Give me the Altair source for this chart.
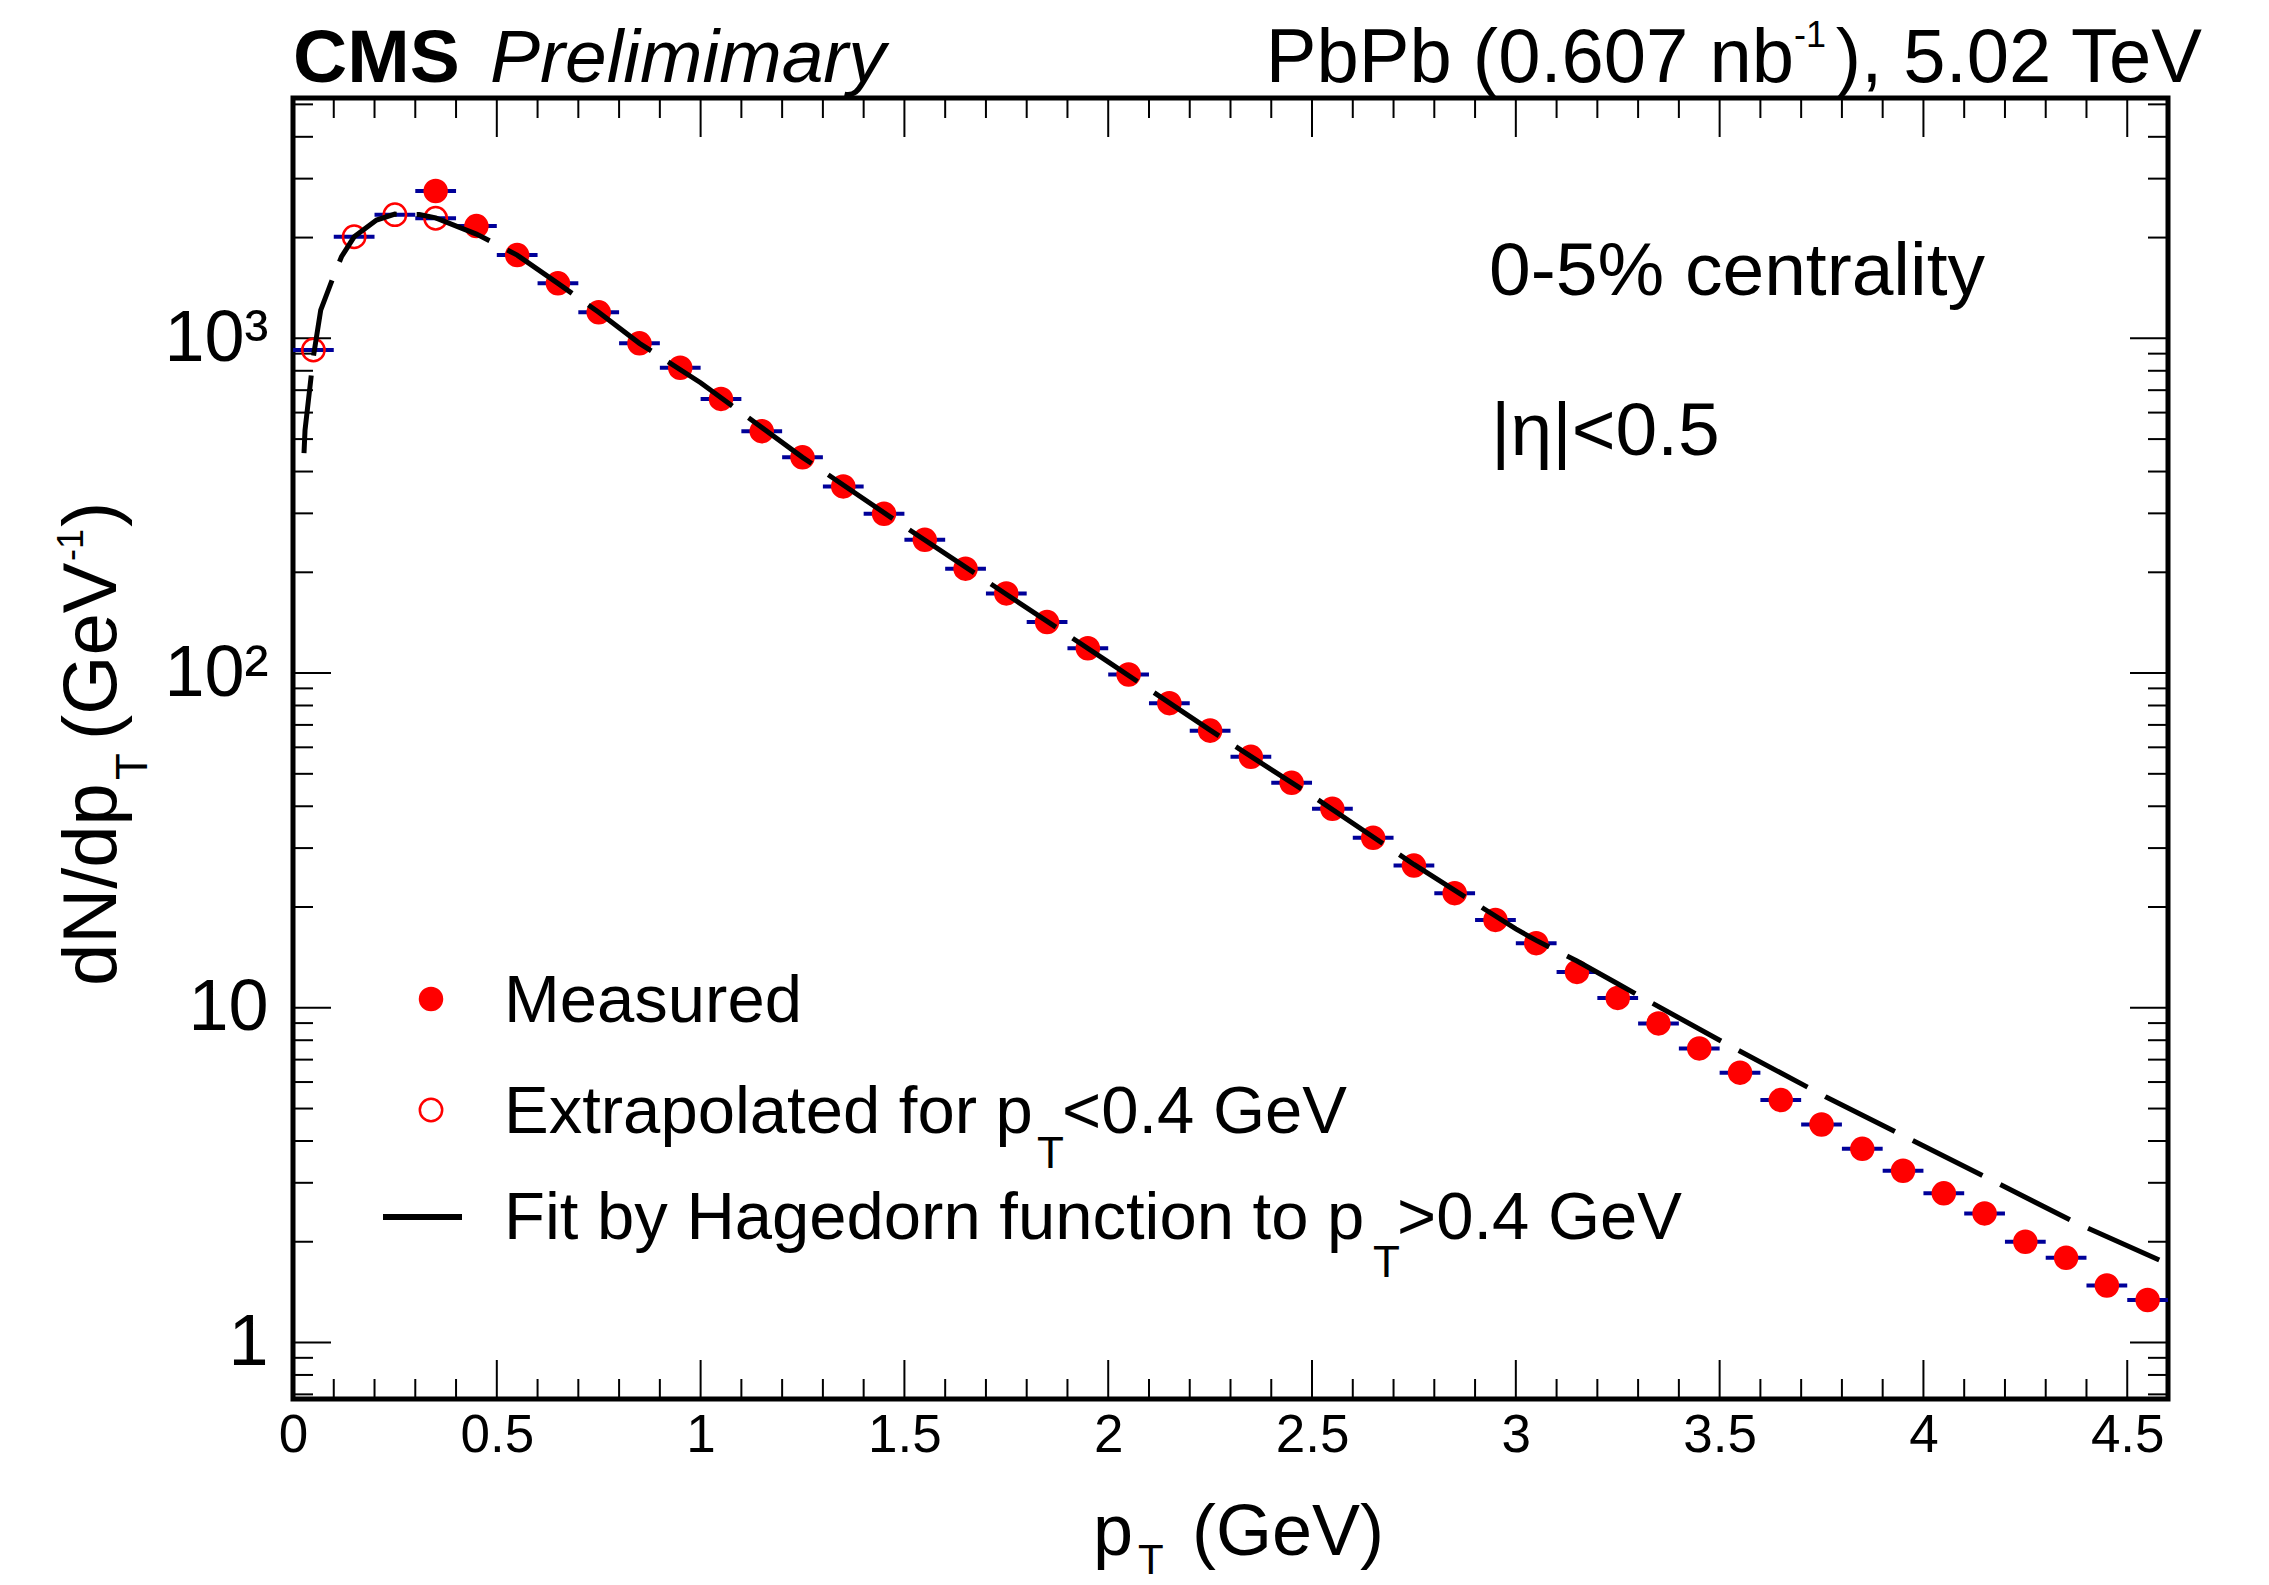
import altair as alt
import pandas as pd

# ---------------- data ----------------
meas_pt = [0.35, 0.45, 0.55, 0.65, 0.75, 0.85, 0.95, 1.05, 1.15, 1.25, 1.35, 1.45,
           1.55, 1.65, 1.75, 1.85, 1.95, 2.05, 2.15, 2.25, 2.35, 2.45, 2.55, 2.65,
           2.75, 2.85, 2.95, 3.05, 3.15, 3.25, 3.35, 3.45, 3.55, 3.65, 3.75, 3.85,
           3.95, 4.05, 4.15, 4.25, 4.35, 4.45, 4.55]
meas_val = [2755, 2165, 1773, 1460, 1196, 966, 817, 659, 528, 441, 361, 299,
            250, 205, 173, 142, 118.6, 99, 81.3, 67.3, 56.2, 47, 39.3, 32.2,
            26.6, 22, 18.3, 15.6, 12.8, 10.7, 8.98, 7.56, 6.40, 5.30, 4.48, 3.79,
            3.26, 2.79, 2.43, 2.00, 1.79, 1.48, 1.34]

extra_pt = [0.05, 0.15, 0.25, 0.35]
extra_val = [923, 2012, 2341, 2284]

fit_pt = [0.027, 0.0295, 0.05, 0.068, 0.099, 0.119, 0.15, 0.205, 0.25, 0.31, 0.35,
          0.45, 0.55, 0.65, 0.75, 0.85, 1.0, 1.25, 1.5, 1.75, 2.0, 2.25, 2.5, 2.75,
          3.0, 3.05, 3.15, 3.25, 3.33, 3.5, 3.76, 3.95, 4.15, 4.37, 4.58]
fit_val = [454, 532, 881, 1215, 1528, 1753, 2010, 2257, 2350, 2345, 2290,
           2049, 1773, 1460, 1196, 966, 737, 441, 274, 172, 108, 67.5, 43, 26.8,
           17.2, 15.9, 13.8, 11.8, 10.4, 8.0, 5.42, 4.15, 3.13, 2.29, 1.76]

bin_half = 0.05

x_major = [0, 0.5, 1, 1.5, 2, 2.5, 3, 3.5, 4, 4.5]
x_minor = [0.1, 0.2, 0.3, 0.4, 0.6, 0.7, 0.8, 0.9, 1.1, 1.2, 1.3, 1.4,
           1.6, 1.7, 1.8, 1.9, 2.1, 2.2, 2.3, 2.4, 2.6, 2.7, 2.8, 2.9,
           3.1, 3.2, 3.3, 3.4, 3.6, 3.7, 3.8, 3.9, 4.1, 4.2, 4.3, 4.4]
y_major = [1, 10, 100, 1000]
y_minor = [0.7, 0.8, 0.9, 2, 3, 4, 5, 6, 7, 8, 9, 20, 30, 40, 50, 60, 70, 80, 90,
           200, 300, 400, 500, 600, 700, 800, 900, 2000, 3000, 4000, 5000]

# ---------------- layout ----------------
W, H = 1875, 1301
FONT = "Liberation Sans"
RED = "#ff0000"
BLUE = "#000099"

xs = alt.Scale(domain=[0, 4.6], nice=False, zero=False)
ys = alt.Scale(type="log", domain=[0.678, 5224], nice=False)

meas_df = pd.DataFrame({"pt": meas_pt, "val": meas_val})
extra_df = pd.DataFrame({"pt": extra_pt, "val": extra_val})
bars_df = pd.concat([extra_df, meas_df], ignore_index=True)
bars_df["lo"] = bars_df["pt"] - bin_half
bars_df["hi"] = bars_df["pt"] + bin_half
fit_df = pd.DataFrame({"pt": fit_pt, "val": fit_val})

X_AXIS = dict(values=x_major, format="~g", title=None, grid=False, domain=False,
              ticks=False, tickSize=0, labelFont=FONT, labelFontSize=53,
              labelColor="black", labelPadding=10, labelFlush=False,
              labelOverlap=False)
Y_AXIS = dict(values=y_major, title=None, grid=False, domain=False, ticks=False,
              tickSize=0, labelFont=FONT, labelFontSize=72, labelColor="black",
              labelPadding=25, labelBaseline="middle", labelOverlap=False,
              labelFlush=False,
              labelExpr="datum.value == 1000 ? '10³' : datum.value == 100 ? '10²' : datum.value == 10 ? '10' : '1'")


def X(field):
    return alt.X(field, scale=xs, axis=alt.Axis(**X_AXIS))


def Y(field):
    return alt.Y(field, scale=ys, axis=alt.Axis(**Y_AXIS))


err = alt.Chart(bars_df).mark_rule(color=BLUE, strokeWidth=4).encode(
    x=X("lo:Q"), x2="hi:Q", y=Y("val:Q"))

meas_pts = alt.Chart(meas_df).mark_point(shape="circle", filled=True, color=RED,
                                          size=600, opacity=1).encode(
    x=X("pt:Q"), y=Y("val:Q"))

extra_pts = alt.Chart(extra_df).mark_point(shape="circle", filled=False, color=RED,
                                            strokeWidth=2.5, size=500, opacity=1).encode(
    x=X("pt:Q"), y=Y("val:Q"))

fit = alt.Chart(fit_df).mark_line(color="black", strokeWidth=5,
                                  strokeDash=[78, 20]).encode(
    x=X("pt:Q"), y=Y("val:Q"))


def xticks(vals, length):
    df = pd.DataFrame({"t": vals})
    base = alt.Chart(df).mark_rule(color="black", strokeWidth=2)
    top = base.encode(x=X("t:Q"), y=alt.value(0), y2=alt.value(length))
    bot = base.encode(x=X("t:Q"), y=alt.value(H), y2=alt.value(H - length))
    return [top, bot]


def yticks(vals, length):
    df = pd.DataFrame({"t": vals})
    base = alt.Chart(df).mark_rule(color="black", strokeWidth=2)
    left = base.encode(y=Y("t:Q"), x=alt.value(0), x2=alt.value(length))
    right = base.encode(y=Y("t:Q"), x=alt.value(W), x2=alt.value(W - length))
    return [left, right]


one = pd.DataFrame({"d": [0]})


def txt(s, x, y, size, align="left", angle=0, weight="normal", style="normal"):
    return alt.Chart(one).mark_text(text=s, font=FONT, fontSize=size, align=align,
                                    baseline="alphabetic", color="black", angle=angle,
                                    fontWeight=weight, fontStyle=style).encode(
        x=alt.value(x), y=alt.value(y))


texts = [
    txt("CMS", 0, -16, 75, weight="bold"),
    txt("Prelimimary", 197, -16, 75, style="italic"),
    txt("PbPb (0.607 nb", 1501, -16, 76, align="right"),
    txt("-1", 1533, -51, 36, align="right"),
    txt("), 5.02 TeV", 1909, -16, 76, align="right"),
    txt("0-5% centrality", 1196, 197, 75),
    txt("|η|<0.5", 1198, 357, 75),
    # legend
    txt("Measured", 211, 924, 67),
    txt("Extrapolated for p", 211, 1035, 67),
    txt("T", 744, 1070, 44),
    txt("<0.4 GeV", 769, 1035, 67),
    txt("Fit by Hagedorn function to p", 211, 1141, 67),
    txt("T", 1080, 1179, 44),
    txt(">0.4 GeV", 1104, 1141, 67),
    # x title
    txt("p", 800, 1457, 72),
    txt("T", 845, 1476, 42),
    txt("(GeV)", 899, 1457, 72),
    # y title (rotated)
    txt("dN/dp", -177, 888, 76, angle=270),
    txt("T", -146, 682, 44, angle=270),
    txt("(GeV", -177, 642, 76, angle=270),
    txt("-1", -210, 463, 36, angle=270),
    txt(")", -177, 429, 76, angle=270),
]

leg_filled = alt.Chart(one).mark_point(shape="circle", filled=True, color=RED,
                                        size=600, opacity=1).encode(
    x=alt.value(138), y=alt.value(901))
leg_open = alt.Chart(one).mark_point(shape="circle", filled=False, color=RED,
                                      strokeWidth=2.5, size=500, opacity=1).encode(
    x=alt.value(138), y=alt.value(1012))
leg_line = alt.Chart(one).mark_rule(color="black", strokeWidth=6).encode(
    x=alt.value(90), x2=alt.value(169), y=alt.value(1119))

layers = ([err] + xticks(x_major, 39) + xticks(x_minor, 20) + yticks(y_major, 38)
          + yticks(y_minor, 20) + [meas_pts, extra_pts, fit, leg_filled, leg_open,
                                   leg_line] + texts)

chart = alt.layer(*layers).properties(
    width=W, height=H,
    padding={"left": 285, "top": 90, "right": 93, "bottom": 186},
    autosize=alt.AutoSizeParams(type="none"),
    background="white",
).configure_view(stroke="black", strokeWidth=5)

chart.save("out.html", embed_options={"renderer": "svg", "actions": False})
